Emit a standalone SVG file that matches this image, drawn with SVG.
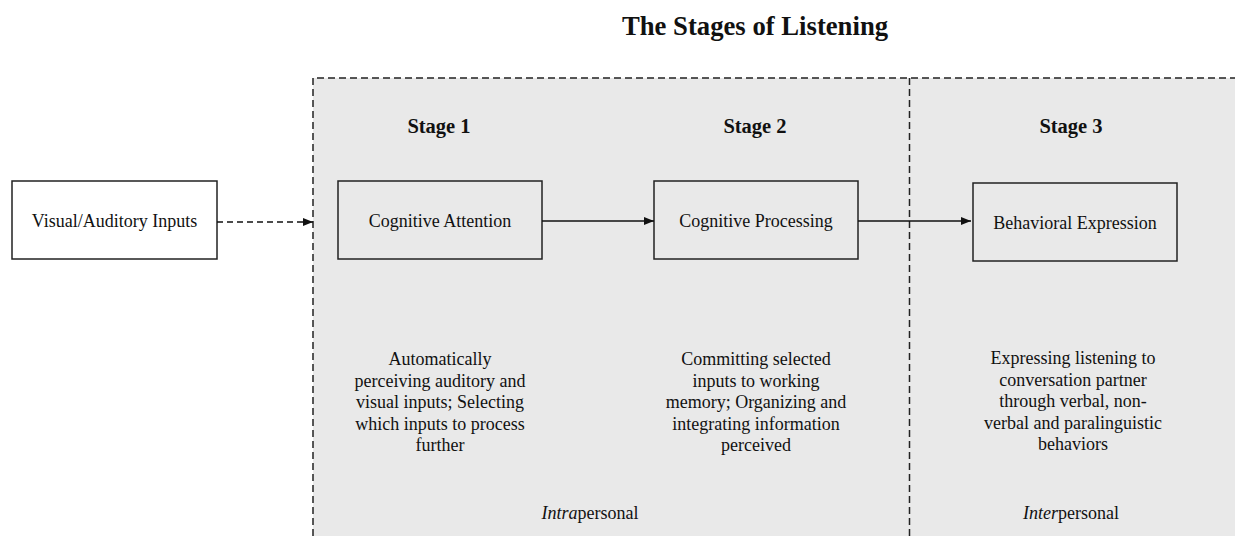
<svg xmlns="http://www.w3.org/2000/svg" width="1235" height="536" viewBox="0 0 1235 536">
  <defs>
    <marker id="arrow" viewBox="0 0 10 8" refX="10" refY="4" markerWidth="10" markerHeight="8" markerUnits="userSpaceOnUse" orient="auto">
      <path d="M0,0 L10,4 L0,8 Z" fill="#111"/>
    </marker>
    <style>
      text { font-family: "Liberation Serif", "Times New Roman", serif; fill: #111; }
      .title { font-size: 26.7px; font-weight: bold; text-anchor: middle; }
      .stage { font-size: 20.5px; font-weight: bold; text-anchor: middle; }
      .label { font-size: 18px; text-anchor: middle; }
      .body { font-size: 18px; text-anchor: middle; }
      .box { fill: none; stroke: #222; stroke-width: 1.5; }
      .boxw { fill: #fff; stroke: #222; stroke-width: 1.5; }
      .border { fill: none; stroke: #222; stroke-width: 1.5; stroke-dasharray: 7 4; }
      .edge { fill: none; stroke: #111; stroke-width: 1.4; }
      .edge-dash { fill: none; stroke: #111; stroke-width: 1.4; stroke-dasharray: 6 4; }
    </style>
  </defs>

  <rect x="0" y="0" width="1235" height="536" fill="#fff"/>

  <!-- shaded area for the three stages -->
  <g id="stage-area">
    <rect x="313" y="78" width="922" height="458" fill="#e9e9e9"/>
    <path class="border" d="M313,536 V78 H1235"/>
    <path class="border" d="M909.5,78 V536"/>
  </g>

  <text class="title" x="755" y="35">The Stages of Listening</text>

  <g id="stage-labels">
    <text class="stage" x="439" y="133">Stage 1</text>
    <text class="stage" x="755" y="133">Stage 2</text>
    <text class="stage" x="1071" y="133">Stage 3</text>
  </g>

  <g id="node-inputs">
    <rect class="boxw" x="12" y="181" width="205" height="78"/>
    <text class="label" x="114.5" y="227">Visual/Auditory Inputs</text>
  </g>

  <g id="node-attention">
    <rect class="box" x="338" y="181" width="204" height="78"/>
    <text class="label" x="440" y="227">Cognitive Attention</text>
  </g>

  <g id="node-processing">
    <rect class="box" x="654" y="181" width="204" height="78"/>
    <text class="label" x="756" y="227">Cognitive Processing</text>
  </g>

  <g id="node-expression">
    <rect class="box" x="973" y="183" width="204" height="78"/>
    <text class="label" x="1075" y="229">Behavioral Expression</text>
  </g>

  <g id="connectors">
    <line class="edge-dash" x1="217" y1="222" x2="313" y2="222" marker-end="url(#arrow)"/>
    <line class="edge" x1="542" y1="221" x2="654" y2="221" marker-end="url(#arrow)"/>
    <line class="edge" x1="858" y1="221" x2="971" y2="221" marker-end="url(#arrow)"/>
  </g>

  <g id="desc-stage1" class="body">
    <text class="body" x="440" y="365">Automatically</text>
    <text class="body" x="440" y="386.5">perceiving auditory and</text>
    <text class="body" x="440" y="408">visual inputs; Selecting</text>
    <text class="body" x="440" y="429.5">which inputs to process</text>
    <text class="body" x="440" y="451">further</text>
  </g>

  <g id="desc-stage2">
    <text class="body" x="756" y="365">Committing selected</text>
    <text class="body" x="756" y="386.5">inputs to working</text>
    <text class="body" x="756" y="408">memory; Organizing and</text>
    <text class="body" x="756" y="429.5">integrating information</text>
    <text class="body" x="756" y="451">perceived</text>
  </g>

  <g id="desc-stage3">
    <text class="body" x="1073" y="364">Expressing listening to</text>
    <text class="body" x="1073" y="385.5">conversation partner</text>
    <text class="body" x="1073" y="407">through verbal, non-</text>
    <text class="body" x="1073" y="428.5">verbal and paralinguistic</text>
    <text class="body" x="1073" y="450">behaviors</text>
  </g>

  <g id="scope-labels">
    <text class="body" x="590" y="519"><tspan font-style="italic">Intra</tspan>personal</text>
    <text class="body" x="1071" y="519"><tspan font-style="italic">Inter</tspan>personal</text>
  </g>
</svg>
